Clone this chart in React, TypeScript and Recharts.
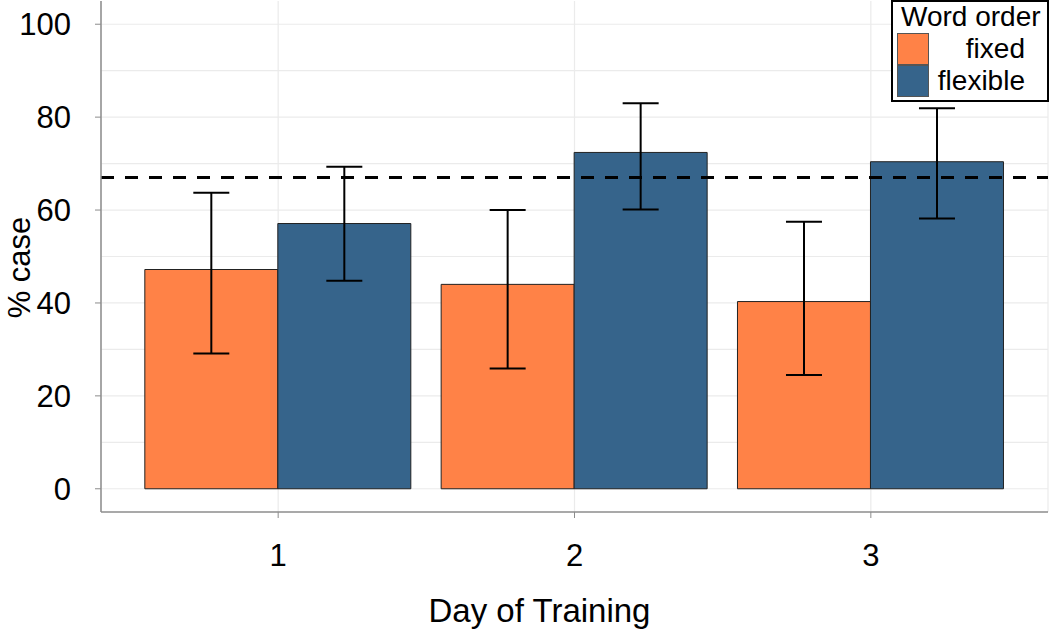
import {
  BarChart,
  Bar,
  XAxis,
  YAxis,
  CartesianGrid,
  ReferenceLine,
  ErrorBar,
  Label,
} from 'recharts'

// values (% case per training day)
const days = ['1', '2', '3']
const fixedPct = [47.2, 44.0, 40.3]
const fixedLow = [29.1, 25.9, 24.5]
const fixedHigh = [63.7, 60.0, 57.5]
const flexiblePct = [57.1, 72.4, 70.4]
const flexibleLow = [44.8, 60.1, 58.2]
const flexibleHigh = [69.3, 83.0, 81.9]
const chanceLine = 67
const yTicks = [0, 20, 40, 60, 80, 100]
const gridValues = [0, 10, 20, 30, 40, 50, 60, 70, 80, 90, 100]

const seriesNames = ['fixed', 'flexible']
const seriesColors = ['#FF8247', '#36648B']

const FONT = '"Liberation Sans", Arial, sans-serif'
const BORDER = '#8c8c8c'

const chartData = days.map((day, i) => ({
  day,
  fixed: fixedPct[i],
  fixedErr: [fixedPct[i] - fixedLow[i], fixedHigh[i] - fixedPct[i]],
  flexible: flexiblePct[i],
  flexibleErr: [flexiblePct[i] - flexibleLow[i], flexibleHigh[i] - flexiblePct[i]],
}))

function XTitle({ viewBox }: any) {
  const { x, y, width } = viewBox
  return (
    <text x={x + width / 2 - 35} y={y + 110} textAnchor="middle" fontSize={33} fill="#000">
      Day of Training
    </text>
  )
}

function YTitle({ viewBox }: any) {
  const { y, height } = viewBox
  const cx = 30
  const cy = y + height / 2 + 11
  return (
    <text
      x={cx}
      y={cy}
      textAnchor="middle"
      fontSize={31}
      fill="#000"
      transform={`rotate(-90, ${cx}, ${cy})`}
    >
      % case
    </text>
  )
}

function WordOrderLegend() {
  return (
    <div
      style={{
        position: 'absolute',
        left: 891,
        top: 0,
        width: 158,
        height: 102,
        boxSizing: 'border-box',
        border: '2px solid #000',
        background: '#fff',
        fontSize: 28,
        lineHeight: '28px',
        color: '#000',
      }}
    >
      <div style={{ position: 'absolute', left: 8, top: 1, whiteSpace: 'nowrap' }}>Word order</div>
      {seriesNames.map((name, i) => (
        <div key={name}>
          <div
            style={{
              position: 'absolute',
              left: 4,
              top: 31 + i * 32,
              width: 32,
              height: 32,
              boxSizing: 'border-box',
              border: '1px solid #555',
              background: seriesColors[i],
            }}
          />
          <div
            style={{
              position: 'absolute',
              right: 22,
              top: 33 + i * 32,
              whiteSpace: 'nowrap',
            }}
          >
            {name}
          </div>
        </div>
      ))}
    </div>
  )
}

export default function App() {
  return (
    <div
      style={{
        position: 'absolute',
        left: 0,
        top: 0,
        width: 1050,
        height: 633,
        background: '#fff',
        fontFamily: FONT,
      }}
    >
      <BarChart
        width={1050}
        height={633}
        data={chartData}
        margin={{ top: 1, right: 2, bottom: 0, left: 0 }}
        barGap={0}
        barCategoryGap="5%"
      >
        <CartesianGrid
          stroke="#ebebeb"
          strokeWidth={1.2}
          horizontalValues={gridValues}
        />
        <XAxis
          dataKey="day"
          height={121}
          padding={{ left: 29, right: 29 }}
          tick={{ fontSize: 31, fill: '#000' }}
          tickSize={6}
          tickMargin={26}
          tickLine={{ stroke: BORDER }}
          axisLine={{ stroke: BORDER, strokeWidth: 1.5 }}
        >
          <Label content={<XTitle />} />
        </XAxis>
        <XAxis
          xAxisId="top"
          dataKey="day"
          orientation="top"
          height={0}
          tick={false}
          tickLine={false}
          axisLine={{ stroke: BORDER, strokeWidth: 1.5 }}
        />
        <YAxis
          width={101}
          domain={[-5, 105]}
          ticks={yTicks}
          allowDataOverflow
          tick={{ fontSize: 31, fill: '#000' }}
          tickSize={6}
          tickMargin={24}
          tickLine={{ stroke: BORDER }}
          axisLine={{ stroke: BORDER, strokeWidth: 1.5 }}
        >
          <Label content={<YTitle />} />
        </YAxis>
        <YAxis
          yAxisId="right"
          orientation="right"
          width={0}
          tick={false}
          tickLine={false}
          axisLine={{ stroke: BORDER, strokeWidth: 1.5 }}
        />
        <Bar
          dataKey="fixed"
          name={seriesNames[0]}
          fill={seriesColors[0]}
          stroke="#222"
          strokeWidth={1}
          isAnimationActive={false}
        >
          <ErrorBar dataKey="fixedErr" direction="y" width={18} stroke="#000" strokeWidth={2} />
        </Bar>
        <Bar
          dataKey="flexible"
          name={seriesNames[1]}
          fill={seriesColors[1]}
          stroke="#222"
          strokeWidth={1}
          isAnimationActive={false}
        >
          <ErrorBar dataKey="flexibleErr" direction="y" width={18} stroke="#000" strokeWidth={2} />
        </Bar>
        <ReferenceLine y={chanceLine} stroke="#000" strokeWidth={3} strokeDasharray="13 11" />
      </BarChart>
      <WordOrderLegend />
    </div>
  )
}
